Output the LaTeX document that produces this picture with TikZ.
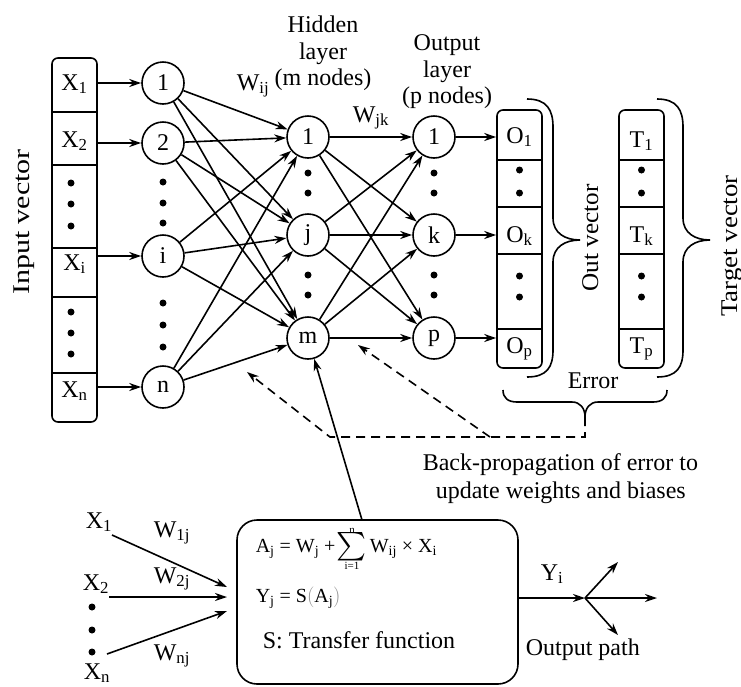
\documentclass[tikz,border=0pt]{standalone}
\usepackage{fontspec}
\setmainfont{Liberation Serif}
\usetikzlibrary{arrows.meta}

\tikzset{
  txt/.style={font=\fontsize{24}{26.5}\selectfont, inner sep=0pt},
  btxt/.style={txt, anchor=base west},
  eqtxt/.style={font=\fontsize{20}{24}\selectfont, inner sep=0pt, anchor=base west},
  neuron/.style={circle, draw, minimum size=42pt, inner sep=0pt, font=\fontsize{24}{27}\selectfont},
  cell/.style={minimum width=45pt, inner sep=0pt, anchor=base, font=\fontsize{24}{27}\selectfont},
  link/.style={-{Stealth[length=12pt,width=8pt]}},
  backprop/.style={dash pattern=on 9pt off 6pt},
  vec/.style={rounded corners=6pt},
}

\begin{document}
\begin{tikzpicture}[x=1pt, y=-1pt, line width=1.6pt]
\useasboundingbox (0,0) rectangle (741,686);

% ---------- input vector ----------
\draw[vec] (52,58) rectangle (97,422);
\foreach \y in {112,165,248,297,373} \draw (52,\y) -- (97,\y);
\node[cell] (x1) at (74.5,90)  {X\textsubscript{1}};
\node[cell] (x2) at (74.5,147) {X\textsubscript{2}};
\node[cell] (xi) at (74.5,270) {X\textsubscript{i}};
\node[cell] (xn) at (74.5,397) {X\textsubscript{n}};
\foreach \y in {183,204,226,312,333,354} \fill (71,\y) circle (3.5pt);
\node[txt, rotate=90, anchor=base] (invec) at (29,222) {\scalebox{1.25}[1]{Input vector}};

% ---------- input layer ----------
\node[neuron] (a1) at (163,83)  {1};
\node[neuron] (a2) at (163,143) {2};
\node[neuron] (ai) at (163,256) {i};
\node[neuron] (an) at (163,387) {n};
\foreach \y in {182,203,223,303,325,347} \fill (163,\y) circle (3.5pt);
\draw[link] (a1 -| x1.east) -- (a1);
\draw[link] (a2 -| x2.east) -- (a2);
\draw[link] (ai -| xi.east) -- (ai);
\draw[link] (an -| xn.east) -- (an);

% ---------- hidden layer ----------
\node[neuron] (h1) at (308,137) {1};
\node[neuron] (hj) at (308,235) {j};
\node[neuron] (hm) at (308,338) {m};
\foreach \y in {173,193,275,295} \fill (308,\y) circle (3.5pt);
\node[txt, anchor=base] (hid1) at (323,32) {Hidden};
\node[txt, anchor=base] (hid2) at (323,59) {layer};
\node[txt, anchor=base] (hid3) at (323,85) {(m nodes)};
\node[btxt] (wij) at (236,90) {W\textsubscript{ij}};

% ---------- output layer ----------
\node[neuron] (o1) at (434,137) {1};
\node[neuron] (ok) at (434,235) {k};
\node[neuron] (op) at (434,338) {p};
\foreach \y in {173,193,275,295} \fill (434,\y) circle (3.5pt);
\node[txt, anchor=base] (out1) at (447,50) {Output};
\node[txt, anchor=base] (out2) at (447,77) {layer};
\node[txt, anchor=base] (out3) at (447,103) {(p nodes)};
\node[btxt] (wjk) at (352,122) {W\textsubscript{jk}};

% ---------- weights ----------
\foreach \s in {a1,a2,ai,an}
  \foreach \t in {h1,hj,hm}
    \draw[link] (\s) -- (\t);
\foreach \s in {h1,hj,hm}
  \foreach \t in {o1,ok,op}
    \draw[link] (\s) -- (\t);

% ---------- out vector ----------
\draw[vec] (497,110) rectangle (542,368);
\foreach \y in {160,207,254,329} \draw (497,\y) -- (542,\y);
\node[cell] (vo1) at (519.5,143) {O\textsubscript{1}};
\node[cell] (vok) at (519.5,242) {O\textsubscript{k}};
\node[cell] (vop) at (519.5,353) {O\textsubscript{p}};
\foreach \y in {170,193,276,297} \fill (519.5,\y) circle (3.5pt);
\draw[link] (o1) -- (o1 -| vo1.west);
\draw[link] (ok) -- (ok -| vok.west);
\draw[link] (op) -- (op -| vop.west);

% ---------- target vector ----------
\draw[vec] (619,110) rectangle (664,368);
\foreach \y in {160,207,254,329} \draw (619,\y) -- (664,\y);
\node[cell] (t1) at (641.5,147) {T\textsubscript{1}};
\node[cell] (tk) at (641.5,242) {T\textsubscript{k}};
\node[cell] (tp) at (641.5,353) {T\textsubscript{p}};
\foreach \y in {170,193,276,297} \fill (641.5,\y) circle (3.5pt);

% ---------- braces ----------
\foreach \dx in {0,130}
  \draw[shift={(\dx,0)}] (527,99) .. controls (547,99) and (553,110) .. (553,127)
     -- (553,218) .. controls (553,233) and (565,240) .. (580,240)
     .. controls (565,240) and (553,247) .. (553,262)
     -- (553,350) .. controls (553,367) and (547,377) .. (527,377);
\node[txt, rotate=90, anchor=base] (outvec) at (598,238) {\scalebox{1.05}[1]{Out vector}};
\node[txt, rotate=90, anchor=base] (tgtvec) at (737,246) {\scalebox{1.12}[1]{Target vector}};

\node[btxt] (err) at (567,388) {Error};
\draw (503,390) .. controls (503,398) and (508,402) .. (517,402)
   -- (572,402) .. controls (580,402) and (585,408) .. (585,417)
   .. controls (585,408) and (590,402) .. (598,402)
   -- (653,402) .. controls (662,402) and (667,398) .. (667,390);

% ---------- back-propagation ----------
\coordinate (btip) at (585,417);
\coordinate (bcorner) at (585,437);
\coordinate (bleft) at (330,437);
\coordinate (bmid) at (490,437);
\coordinate (bhit1) at (247,372);
\coordinate (bhit2) at (358,345);
\draw[backprop, link] (btip) -- (bcorner) -- (bleft) -- (bhit1);
\draw[backprop, link] (bmid) -- (bhit2);
\node[btxt] (bp1) at (422,470) {Back-propagation of error to};
\node[btxt] (bp2) at (435,498) {update weights and biases};

% ---------- single neuron ----------
\node[draw, rounded corners=20pt, minimum width=281pt, minimum height=164pt,
      inner sep=0pt] (fbox) at (377.5,602) {};
\coordinate (ftop) at (362,520);
\draw[link] (ftop) -- (hm);

\node[eqtxt] (eqa) at (255,552) {A\textsubscript{j} = W\textsubscript{j} +};
\node[inner sep=0pt, align=center, font=\fontsize{11}{11}\selectfont] (sig) at (352,549)
  {n\\[-2pt]\resizebox{!}{22pt}{$\sum$}\\[0pt]i=1};
\node[eqtxt] (eqb) at (369,552) {W\textsubscript{ij} × X\textsubscript{i}};
\node[eqtxt] (eqy) at (255,602)
  {Y\textsubscript{j} = S\textcolor{black!45}{$\big($}A\textsubscript{j}\textcolor{black!45}{$\big)$}};
\node[btxt] (sfun) at (262,648) {S: Transfer function};

% inputs of the neuron
\node[btxt] (bx1) at (85,528) {X\textsubscript{1}};
\node[btxt] (bx2) at (82,590) {X\textsubscript{2}};
\node[btxt] (bxn) at (83,679) {X\textsubscript{n}};
\foreach \y in {607,630,652} \fill (92,\y) circle (3.5pt);
\coordinate (s1) at (112,535);
\coordinate (s2) at (109,597);
\coordinate (sn) at (107,654);
\coordinate (e1) at (227,587);
\coordinate (e2) at (227,597);
\coordinate (en) at (227,611);
\draw[link] (s1) -- (e1);
\draw[link] (s2) -- (e2);
\draw[link] (sn) -- (en);
\node[btxt] (w1j) at (153,537) {W\textsubscript{1j}};
\node[btxt] (w2j) at (153,583) {W\textsubscript{2j}};
\node[btxt] (wnj) at (153,660) {W\textsubscript{nj}};

% output path
\coordinate (jct) at (585,598);
\coordinate (q1) at (657,598);
\coordinate (q2) at (618,562);
\coordinate (q3) at (618,635);
\draw[link] (jct -| fbox.east) -- (jct);
\draw[link] (jct) -- (q1);
\draw[link] (jct) -- (q2);
\draw[link] (jct) -- (q3);
\node[btxt] (yi) at (540,580) {Y\textsubscript{i}};
\node[btxt] (opath) at (525,655) {Output path};
\end{tikzpicture}
\end{document}
